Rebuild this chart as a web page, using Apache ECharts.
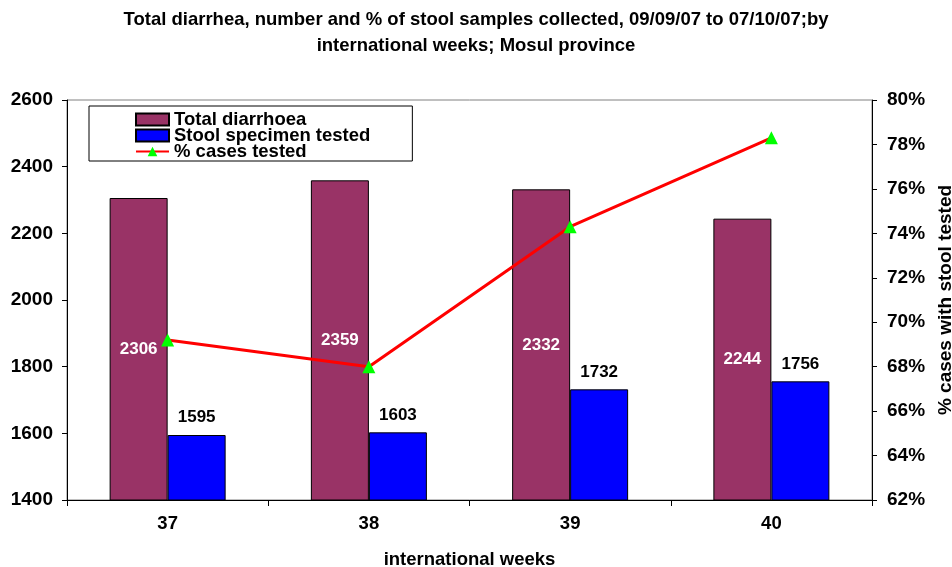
<!DOCTYPE html>
<html>
<head>
<meta charset="utf-8">
<script src="https://cdn.jsdelivr.net/npm/echarts@6/dist/echarts.min.js"></script>
<style>
  html, body { margin: 0; padding: 0; background: #fff; }
  #chart { width: 952px; height: 567px; }
</style>
</head>
<body>
<div id="chart"></div>
<script>
// data
var weeks = ["37", "38", "39", "40"];
var totalDiarrhoea = [2306, 2359, 2332, 2244];
var stoolTested = [1595, 1603, 1732, 1756];
var pctTested = [69.2, 68.0, 74.3, 78.3];

var font = "'Liberation Sans', Arial, sans-serif";

var myChart = echarts.init(document.getElementById("chart"));
myChart.setOption({
  animation: false,
  textStyle: { fontFamily: font },
  title: {
    text: "Total diarrhea, number and % of stool samples collected, 09/09/07 to 07/10/07;by\ninternational weeks; Mosul province",
    left: "center",
    top: 2,
    textStyle: { fontSize: 18.5, fontWeight: "bold", color: "#000", lineHeight: 26, fontFamily: font },
  },
  grid: {
    left: 67,
    right: 80,
    top: 100,
    bottom: 67,
    outerBoundsMode: "none",
    containLabel: false,
    show: true,
    borderColor: "#808080",
    borderWidth: 1,
  },
  legend: {
    orient: "vertical",
    left: 89,
    top: 106,
    padding: [4, 42, 0, 46],
    itemGap: -3,
    itemWidth: 33,
    itemHeight: 12,
    borderColor: "#000",
    borderWidth: 1,
    textStyle: { fontSize: 18.5, fontWeight: "bold", color: "#000", fontFamily: font },
    data: [
      { name: "Total diarrhoea", icon: "rect" },
      { name: "Stool specimen tested", icon: "rect" },
      { name: "% cases tested" },
    ],
  },
  xAxis: {
    type: "category",
    data: weeks,
    name: "international weeks",
    nameLocation: "middle",
    nameGap: 50,
    nameTextStyle: { fontSize: 18.5, fontWeight: "bold", color: "#000" },
    axisLine: { lineStyle: { color: "#000" } },
    axisTick: { show: true, length: 6, lineStyle: { color: "#000" } },
    axisLabel: { fontSize: 18.5, fontWeight: "bold", color: "#000", margin: 14 },
  },
  yAxis: [
    {
      type: "value",
      min: 1400,
      max: 2600,
      interval: 200,
      axisLine: { show: true, lineStyle: { color: "#000" } },
      axisTick: { show: true, length: 5, lineStyle: { color: "#000" } },
      axisLabel: {
        fontSize: 19, fontWeight: "bold", color: "#000", margin: 14,
        formatter: function (v) { return String(v); },
      },
      splitLine: { show: false },
    },
    {
      type: "value",
      min: 62,
      max: 80,
      interval: 2,
      position: "right",
      name: "% cases with stool tested",
      nameLocation: "middle",
      nameRotate: 90,
      nameGap: 58,
      nameTextStyle: { fontSize: 19, fontWeight: "bold", color: "#000" },
      axisLine: { show: true, lineStyle: { color: "#000" } },
      axisTick: { show: true, length: 5, lineStyle: { color: "#000" } },
      axisLabel: { fontSize: 19, fontWeight: "bold", color: "#000", margin: 15, formatter: "{value}%" },
      splitLine: { show: false },
    },
  ],
  series: [
    {
      name: "Total diarrhoea",
      type: "bar",
      data: totalDiarrhoea,
      barWidth: 58,
      barGap: "0%",
      itemStyle: { color: "#993366", borderColor: "#000", borderWidth: 1 },
      label: { show: true, position: "inside", color: "#fff", fontSize: 17, fontWeight: "bold" },
    },
    {
      name: "Stool specimen tested",
      type: "bar",
      data: stoolTested,
      barWidth: 58,
      barGap: "0%",
      itemStyle: { color: "#0000ff", borderColor: "#000", borderWidth: 1 },
      label: { show: true, position: "top", distance: 9, color: "#000", fontSize: 17, fontWeight: "bold" },
    },
    {
      name: "% cases tested",
      type: "line",
      yAxisIndex: 1,
      data: pctTested,
      symbol: "triangle",
      symbolSize: 13,
      itemStyle: { color: "#00ff00" },
      lineStyle: { color: "#ff0000", width: 3 },
      z: 5,
    },
  ],
});
</script>
</body>
</html>
